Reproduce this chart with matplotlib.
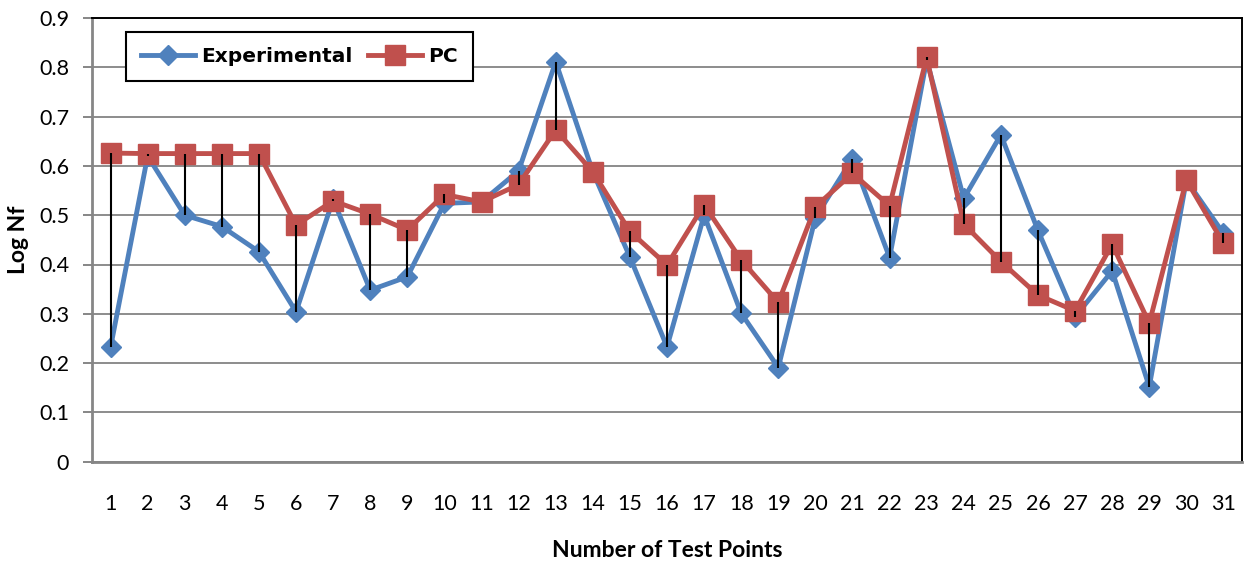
import matplotlib
matplotlib.use("Agg")
import matplotlib.pyplot as plt
import numpy as np

test_points = list(range(1, 32))
experimental = [0.232, 0.620, 0.500, 0.477, 0.426, 0.304, 0.532, 0.348, 0.375, 0.524,
                0.527, 0.590, 0.811, 0.588, 0.415, 0.233, 0.500, 0.301, 0.191, 0.495,
                0.615, 0.414, 0.815, 0.534, 0.663, 0.469, 0.294, 0.387, 0.152, 0.571,
                0.463]
pc = [0.626, 0.625, 0.625, 0.625, 0.625, 0.480, 0.529, 0.502, 0.470, 0.542,
      0.527, 0.562, 0.673, 0.588, 0.467, 0.399, 0.521, 0.409, 0.323, 0.517,
      0.585, 0.519, 0.820, 0.482, 0.406, 0.338, 0.306, 0.441, 0.281, 0.571,
      0.443]
y_ticks = [0, 0.1, 0.2, 0.3, 0.4, 0.5, 0.6, 0.7, 0.8, 0.9]
y_tick_labels = ["0", "0.1", "0.2", "0.3", "0.4", "0.5", "0.6", "0.7", "0.8", "0.9"]

BLUE = "#4F81BD"
RED = "#C0504D"

plt.rcParams["font.family"] = ["Lato", "DejaVu Sans"]

W, H = 1244, 569
fig = plt.figure(figsize=(W / 100, H / 100), dpi=100)
ax = fig.add_axes([92 / W, 1 - 461.7 / H, (1242 - 92) / W, (461.7 - 18) / H])

ax.plot(test_points, experimental, color=BLUE, lw=3.5, marker="D", ms=10,
        label="Experimental", zorder=3)
ax.plot(test_points, pc, color=RED, lw=3.5, marker="s", ms=14,
        label="PC", zorder=4)
ax.vlines(test_points, experimental, pc, color="black", lw=1.5, zorder=5)

ax.set_xlim(0.5, 31.5)
ax.set_ylim(0, 0.9)
ax.set_yticks(y_ticks)
ax.set_yticklabels(y_tick_labels)
ax.set_xticks(test_points)
ax.set_xticklabels([str(t) for t in test_points])
ax.yaxis.grid(True, color="#8c8c8c", lw=1.4)
ax.set_axisbelow(True)

ax.tick_params(axis="x", length=0, pad=23, labelsize=15.5)
ax.tick_params(axis="y", length=6.5, width=1.4, color="#868686", pad=10, labelsize=15.5)

for side in ("top", "right"):
    ax.spines[side].set_color("black")
    ax.spines[side].set_linewidth(1.4)
for side in ("left", "bottom"):
    ax.spines[side].set_color("#868686")
    ax.spines[side].set_linewidth(2)

ax.set_xlabel("Number of Test Points", fontsize=16.5, fontweight="bold", labelpad=19)
ax.set_ylabel("Log Nf", fontsize=16.5, fontweight="bold")
ax.yaxis.set_label_coords((29 - 92) / 1150, 0.5)

leg = ax.legend(loc="upper left", bbox_to_anchor=(126 / W, 1 - 32 / H),
                bbox_transform=fig.transFigure, ncol=2, frameon=True, fancybox=False,
                edgecolor="black", framealpha=1,
                prop={"family": "DejaVu Sans", "weight": "bold", "size": 14.5},
                handlelength=2.7, columnspacing=0.75, handletextpad=0.3,
                borderpad=0.75, borderaxespad=0)
leg.get_frame().set_linewidth(1.5)

fig.savefig("out.png", dpi=100)
